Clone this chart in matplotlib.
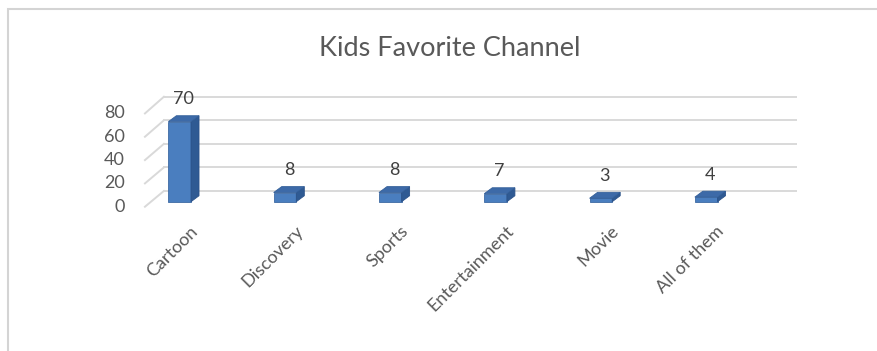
import numpy as np
import matplotlib.pyplot as plt
from matplotlib.patches import Polygon, Rectangle

channels = ['Cartoon', 'Discovery', 'Sports', 'Entertainment', 'Movie', 'All of them']
kids = [70, 8, 8, 7, 3, 4]
y_ticks = [0, 20, 40, 60, 80]

plt.rcParams['font.family'] = ['Lato', 'DejaVu Sans']

fig = plt.figure(figsize=(8.78, 3.51), dpi=100)
ax = fig.add_axes([140 / 878, 141 / 351, 660 / 878, 120 / 351])
ax.set_xlim(-0.377, 5.891)
ax.set_ylim(-7.26, 97.7)
ax.axis('off')

# fake 3d: bar depth and where the back wall / front edge sit
bar_w = 0.215
dx, dy = 0.076, 5.2


def front(v):
    return v * 1.02 - 4.4


def back(v):
    return v * 1.03 + 9.4


grid_col = '#d9d9d9'
x_front, x_back, x_end = -0.33, -0.15, 5.853
for t in y_ticks:
    ax.plot([x_back, x_end], [back(t), back(t)], color=grid_col, lw=1.4, zorder=1)
    ax.plot([x_front, x_back], [front(t), back(t)], color=grid_col, lw=1.4, zorder=1)
    ax.text(-0.52, front(t), str(t), ha='right', va='center', fontsize=13,
            color='#595959', clip_on=False)

x = np.arange(len(channels))
ax.bar(x, kids, width=bar_w, color='#4a7ebf', edgecolor='#3e6aa3', lw=0.6, zorder=3)

for xi, v in zip(x, kids):
    r = xi + bar_w / 2
    l = xi - bar_w / 2
    side = Polygon([(r, 0), (r + dx, dy), (r + dx, v + dy), (r, v)],
                   closed=True, facecolor='#2f5a93', edgecolor='#2b5289', lw=0.6, zorder=3)
    top = Polygon([(l, v), (r, v), (r + dx, v + dy), (l + dx, v + dy)],
                  closed=True, facecolor='#3d6aa8', edgecolor='#34609a', lw=0.6, zorder=3)
    ax.add_patch(side)
    ax.add_patch(top)
    ax.annotate(str(v), (xi + dx / 2, v + dy), xytext=(0, 6), textcoords='offset points',
                ha='center', va='bottom', fontsize=13, color='#404040')

for xi, name in zip(x, channels):
    ax.text(xi + 0.2, -18.5, name, rotation=45, ha='right', va='top', fontsize=13,
            color='#595959', clip_on=False)

fig.text(449.5 / 878, 1 - 48 / 351, 'Kids Favorite Channel', ha='center', va='center',
         fontsize=19.5, color='#595959')

# chart border
fig.add_artist(Rectangle((8 / 878, -0.1), 1.2, 1.1 - 9 / 351, transform=fig.transFigure,
                         fill=False, edgecolor='#d4d4d4', lw=1.5))

fig.savefig('out.png', dpi=100, facecolor='white')
